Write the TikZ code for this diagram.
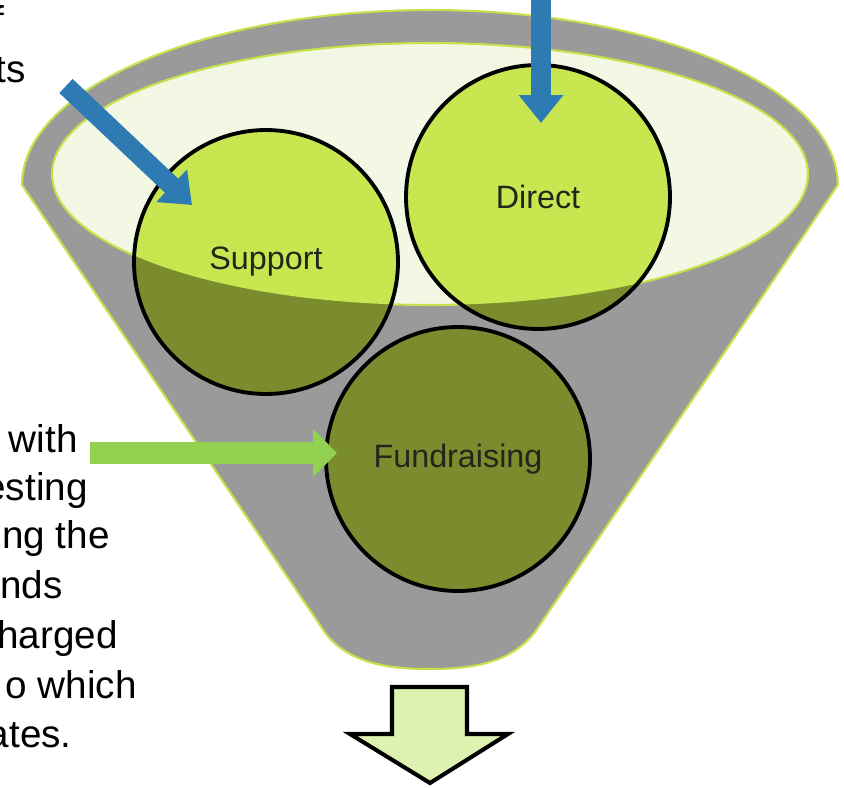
\documentclass[tikz,border=0pt]{standalone}
\usepackage{fontspec}
\setmainfont{Liberation Sans}
\usetikzlibrary{arrows.meta}

\definecolor{funnelgray}{HTML}{9A9A9A}
\definecolor{rimgreen}{HTML}{C4E24A}
\definecolor{paleopen}{HTML}{F2F8E4}
\definecolor{olivefill}{HTML}{7A8C2E}
\definecolor{limefill}{HTML}{C8E650}
\definecolor{flowblue}{HTML}{2E7BB4}
\definecolor{flowgreen}{HTML}{92D050}
\definecolor{outpale}{HTML}{DDF2B0}
\definecolor{labeltext}{HTML}{23261A}

\tikzset{
  costpool/.style={circle, draw=black, line width=2.2pt, fill=olivefill,
    minimum size=5.28cm, inner sep=0pt, text=labeltext,
    font=\fontsize{18.4}{21}\selectfont,
    path picture={\fill[limefill] (rim) ellipse [x radius=7.56cm, y radius=2.62cm];}},
  bluearrow/.style={draw=flowblue, line width=11pt,
    -{Triangle[width=0.86cm,length=0.56cm]}},
  greenarrow/.style={draw=flowgreen, line width=13pt,
    -{Triangle[width=0.94cm,length=0.48cm]}},
  sidetext/.style={anchor=base east, inner sep=0pt,
    font=\fontsize{22}{27}\selectfont},
}

\begin{document}
\begin{tikzpicture}[x=0.02cm, y=0.02cm, yscale=-1]
    \useasboundingbox (0,0) rectangle (844,787);
    \clip (0,0) rectangle (844,787);
    % funnel body
    \filldraw[fill=funnelgray, draw=rimgreen, line width=1.2pt]
      (22,185) arc[start angle=180, end angle=360, x radius=8.16cm, y radius=3.5cm]
      -- (535,632) .. controls (510,664) and (470,669) .. (430,669)
      .. controls (390,669) and (350,664) .. (326,634) -- cycle;
    % opening of the funnel
    \coordinate (rim) at (430,174);
    \filldraw[fill=paleopen, draw=rimgreen, line width=1.2pt]
      (rim) ellipse [x radius=7.56cm, y radius=2.62cm];

    \node[costpool] (support) at (266,262) {Support};
    \node[costpool] (direct) at (538,197) {Direct};
    \node[costpool] (fundraising) at (458,459) {Fundraising};

    % what goes in
    \coordinate (supportin) at (66,86);
    \coordinate (supporttip) at (192,205);
    \draw[bluearrow] (supportin) -- (supporttip);
    \coordinate (directin) at (541,-10);
    \coordinate (directtip) at (541,123);
    \draw[bluearrow] (directin) -- (directtip);
    \coordinate (notein) at (90,453);
    \coordinate (notetip) at (337,453);
    \draw[greenarrow] (notein) -- (notetip);

    % what comes out
    \filldraw[fill=outpale, draw=black, line width=2.3pt]
      (392,687) -- (467,687) -- (467,734) -- (508,734) -- (430,783)
      -- (350,734) -- (392,734) -- cycle;

    \node[sidetext] (topa) at (5,34) {f};
    \node[sidetext] (topb) at (26,83) {ts};
    \node[sidetext] (linea) at (78,452) {with};
    \node[sidetext] (lineb) at (88,500) {esting};
    \node[sidetext] (linec) at (110,548) {ng the};
    \node[sidetext] (lined) at (63,598) {nds};
    \node[sidetext] (linee) at (118,648) {harged};
    \node[sidetext] (linef) at (137,698) {o which};
    \node[sidetext] (lineg) at (72,747) {ates.};
  \end{tikzpicture}
\end{document}
